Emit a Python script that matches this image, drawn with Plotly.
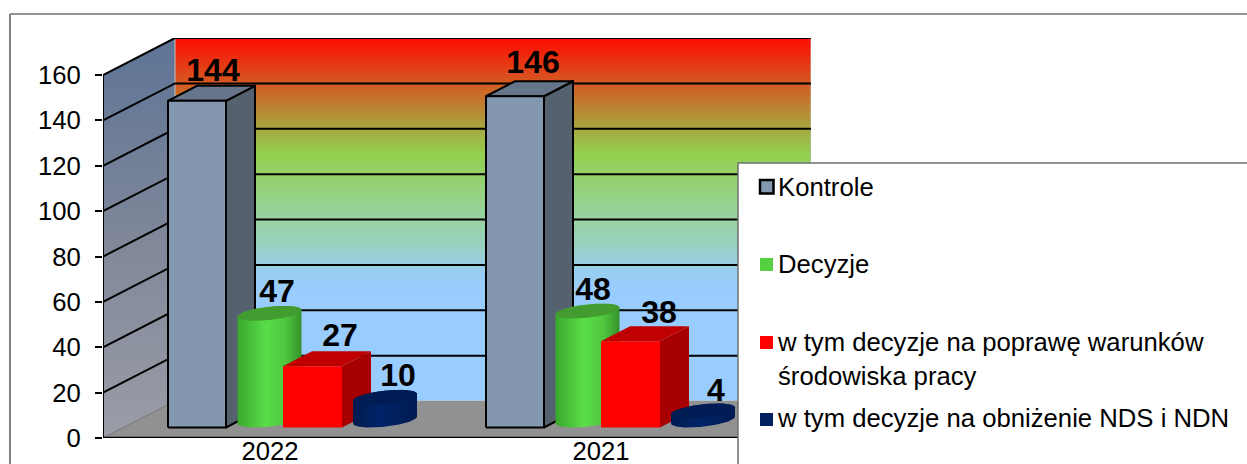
import numpy as np
import plotly.graph_objects as go

# ---- data ----
CATEGORIES = ["2022", "2021"]
KONTROLE = [144, 146]
DECYZJE = [47, 48]
POPRAWA = [27, 38]
OBNIZENIE = [10, 4]
Y_TICKS = [0, 20, 40, 60, 80, 100, 120, 140, 160]
LEGEND_NAMES = ["Kontrole", "Decyzje",
                "w tym decyzje na poprawę warunków<br>środowiska pracy",
                "w tym decyzje na obniżenie NDS i NDN"]

# ---- geometry (page px) ----
W, H = 1247, 464
PX_L, PX_R, PX_T, PX_B = 103, 811, 38, 438
PX_Y = 363 / 160          # px per value
PX_X = 318                # px per category
WALL_DX = 72 / PX_X       # depth of the chart box, category units
WALL_DY = 37 / PX_Y       # same, value units
BAR_DX = 29 / PX_X
BAR_DY = 15 / PX_Y
FRONT = 10.5 / PX_Y       # gap between axis line and the front face of bars
X0, X1 = -0.5, 1.5 + WALL_DX
Y1 = 400 / PX_Y


def px_x(p):
    return p / W


def px_y(p):
    return 1 - p / H


fig = go.Figure()


def poly(xs, ys, color=None, line=None, lw=0, grad=None):
    kw = dict(x=list(xs) + [xs[0]], y=list(ys) + [ys[0]], mode="lines", fill="toself",
              hoverinfo="skip", showlegend=False,
              line=dict(color=line or "rgba(0,0,0,0)", width=lw))
    if grad:
        kw["fillgradient"] = grad
    else:
        kw["fillcolor"] = color
    fig.add_trace(go.Scatter(**kw))


def seg(xs, ys, color="#000", w=2):
    fig.add_trace(go.Scatter(x=xs, y=ys, mode="lines", line=dict(color=color, width=w),
                             hoverinfo="skip", showlegend=False, cliponaxis=False))


# left wall
poly([X0, X0 + WALL_DX, X0 + WALL_DX, X0], [0, WALL_DY, 160 + WALL_DY, 160],
     grad=dict(type="vertical", start=0, stop=160 + WALL_DY,
               colorscale=[[0, "#9a9da6"], [0.5, "#7f8799"], [1, "#5e7496"]]))
# back wall
poly([X0 + WALL_DX, X1, X1, X0 + WALL_DX], [WALL_DY, WALL_DY, 160 + WALL_DY, 160 + WALL_DY],
     line="#c0c0c0", lw=1,
     grad=dict(type="vertical", start=WALL_DY, stop=160 + WALL_DY,
               colorscale=[[0, "#99ccff"], [0.30, "#99ccff"], [0.36, "#99cdee"], [0.43, "#99d0c0"],
                           [0.554, "#96d28a"], [0.678, "#92d050"], [0.752, "#a8a63f"],
                           [0.876, "#d45a22"], [1, "#ff0a00"]]))
# floor
poly([X0, X0 + WALL_DX, X1, X1 - WALL_DX], [0, WALL_DY, WALL_DY, 0], color="#919191")
# grid lines
for v in Y_TICKS[1:]:
    seg([X0, X0 + WALL_DX, X1], [v, v + WALL_DY, v + WALL_DY])
seg([X0, X0 + WALL_DX], [0, WALL_DY], "#777777", 1)
seg([X0, X0], [0, 160])
seg([X0, X1 - WALL_DX], [0, 0], w=2.5)


def box(cx_left, width, value, front, side, top, line=None, lw=0):
    l, r = cx_left, cx_left + width
    y0, y1 = FRONT, FRONT + value
    poly([r, r + BAR_DX, r + BAR_DX, r], [y0, y0 + BAR_DY, y1 + BAR_DY, y1], side, line, lw)
    poly([l, r, r + BAR_DX, l + BAR_DX], [y1, y1, y1 + BAR_DY, y1 + BAR_DY], top, line, lw)
    poly([l, r, r, l], [y0, y0, y1, y1], front, line, lw)


def cylinder(cx, value, scale, top):
    a = 28.5 / PX_X
    bx, by = BAR_DX / 2, BAR_DY / 2
    t = np.linspace(0, 2 * np.pi, 121)[:-1]
    ex = cx + a * np.cos(t) + bx * np.sin(t)
    ey = by * np.sin(t)
    base = FRONT + by
    # silhouette: lower half of base ellipse, then upper half of top ellipse
    t_r = np.arctan2(bx, a)                       # rightmost point of the ellipse
    lower = np.linspace(t_r + np.pi, t_r + 2 * np.pi, 60)
    upper = np.linspace(t_r, t_r + np.pi, 60)
    xs = np.concatenate([cx + a * np.cos(lower) + bx * np.sin(lower),
                         cx + a * np.cos(upper) + bx * np.sin(upper)])
    ys = np.concatenate([base + by * np.sin(lower),
                         base + value + by * np.sin(upper)])
    poly(list(xs), list(ys), grad=dict(type="horizontal", colorscale=scale))
    poly(list(ex), list(ey + base + value), top)


GREEN = [[0, "#3aa82e"], [0.45, "#5ade48"], [0.75, "#4fc63e"], [1, "#34922a"]]
NAVY = [[0, "#001a50"], [0.45, "#002468"], [1, "#001a50"]]

for i in range(len(CATEGORIES)):
    box(i - 94 / PX_X, 58 / PX_X, KONTROLE[i], "#8497b0", "#56616f", "#667589", "#000000", 2)
    cylinder(i + 7.5 / PX_X, DECYZJE[i], GREEN, "#439c30")
    box(i + 21 / PX_X, 59 / PX_X, POPRAWA[i], "#ff0000", "#a80000", "#c00000")
    cylinder(i + 123 / PX_X, OBNIZENIE[i], NAVY, "#001c54")

# value labels
LABEL_X = [[-49, -47], [15, 13], [78, 79], [136, 136]]
LABEL_DY = [[28, 31], [19, 19], [28, 26], [19, 18]]
SERIES = [KONTROLE, DECYZJE, POPRAWA, OBNIZENIE]
BASE_PX = [0, 7.5, 0, 7.5]
for s, vals in enumerate(SERIES):
    fig.add_trace(go.Scatter(
        x=[i + LABEL_X[s][i] / PX_X for i in range(2)],
        y=[FRONT + BASE_PX[s] / PX_Y + vals[i] + LABEL_DY[s][i] / PX_Y for i in range(2)],
        mode="text", text=[str(v) for v in vals], textposition="middle center",
        textfont=dict(family="Liberation Sans", size=32, color="#000", weight="bold"),
        hoverinfo="skip", showlegend=False))

# legend entries (swatches are drawn as shapes so that they sit right beside the text)
LEG_COLORS = ["#8497b0", "#55d040", "#ff0000", "#002060"]
LEG_Y = [163, 240, 318, 394]
LEG_IDS = ["legend", "legend2", "legend3", "legend4"]
SW_X = [760, 760, 760, 760]
SW_Y = [180, 258, 336, 413]
SW_S = [13.5, 13, 13, 13]
SW_LW = [2.5, 0, 0, 0]
for s in range(4):
    fig.add_trace(go.Scatter(x=[None], y=[None], mode="markers", name=LEGEND_NAMES[s],
                             legend=LEG_IDS[s],
                             marker=dict(symbol="square", size=13, color="rgba(0,0,0,0)")))

legend_layout = {}
for s in range(4):
    legend_layout[LEG_IDS[s]] = dict(
        x=px_x(747), y=px_y(LEG_Y[s]), xanchor="left", yanchor="top",
        bgcolor="rgba(0,0,0,0)", borderwidth=0, indentation=-9,
        font=dict(family="Liberation Sans", size=25.7, color="#000"))

shapes = [
    # outer frame
    dict(type="line", xref="paper", yref="paper", x0=px_x(10), x1=1.01, y0=px_y(14), y1=px_y(14),
         line=dict(color="#707070", width=1.5), layer="below"),
    dict(type="line", xref="paper", yref="paper", x0=px_x(10), x1=px_x(10), y0=px_y(14), y1=-0.01,
         line=dict(color="#808080", width=2), layer="below"),
    # legend panel
    dict(type="rect", xref="paper", yref="paper", x0=px_x(738), x1=1.01, y0=-0.01, y1=px_y(163),
         fillcolor="#ffffff", line=dict(color="#707070", width=1.5), layer="above"),
]
for s in range(4):
    shapes.append(dict(type="rect", xref="paper", yref="paper", layer="above",
                       x0=px_x(SW_X[s]), x1=px_x(SW_X[s] + SW_S[s]),
                       y0=px_y(SW_Y[s] + SW_S[s]), y1=px_y(SW_Y[s]),
                       fillcolor=LEG_COLORS[s],
                       line=dict(color="#000000", width=SW_LW[s])))

fig.update_layout(
    width=W, height=H, margin=dict(l=0, r=0, t=0, b=0), autosize=False,
    paper_bgcolor="#ffffff", plot_bgcolor="rgba(0,0,0,0)",
    font=dict(family="Liberation Sans", size=25.7, color="#000"),
    xaxis=dict(domain=[px_x(PX_L), px_x(PX_R)], range=[X0, X1], showgrid=False, zeroline=False,
               showline=False, tickmode="array", tickvals=[8 / PX_X, 1 + 21 / PX_X], ticktext=CATEGORIES,
               ticks="", ticklen=0, ticklabelstandoff=-5, automargin=False),
    yaxis=dict(domain=[px_y(PX_B), px_y(PX_T)], range=[0, Y1], showgrid=False, zeroline=False,
               showline=False, tickmode="array", tickvals=Y_TICKS, automargin=False,
               ticks="outside", ticklen=7, tickwidth=1.5, tickcolor="#000", ticklabelstandoff=9),
    shapes=shapes,
    **legend_layout,
)

fig.write_html("out.html", config={"displayModeBar": False},
               post_script="document.body.style.margin='0';document.body.style.overflow='hidden';")
